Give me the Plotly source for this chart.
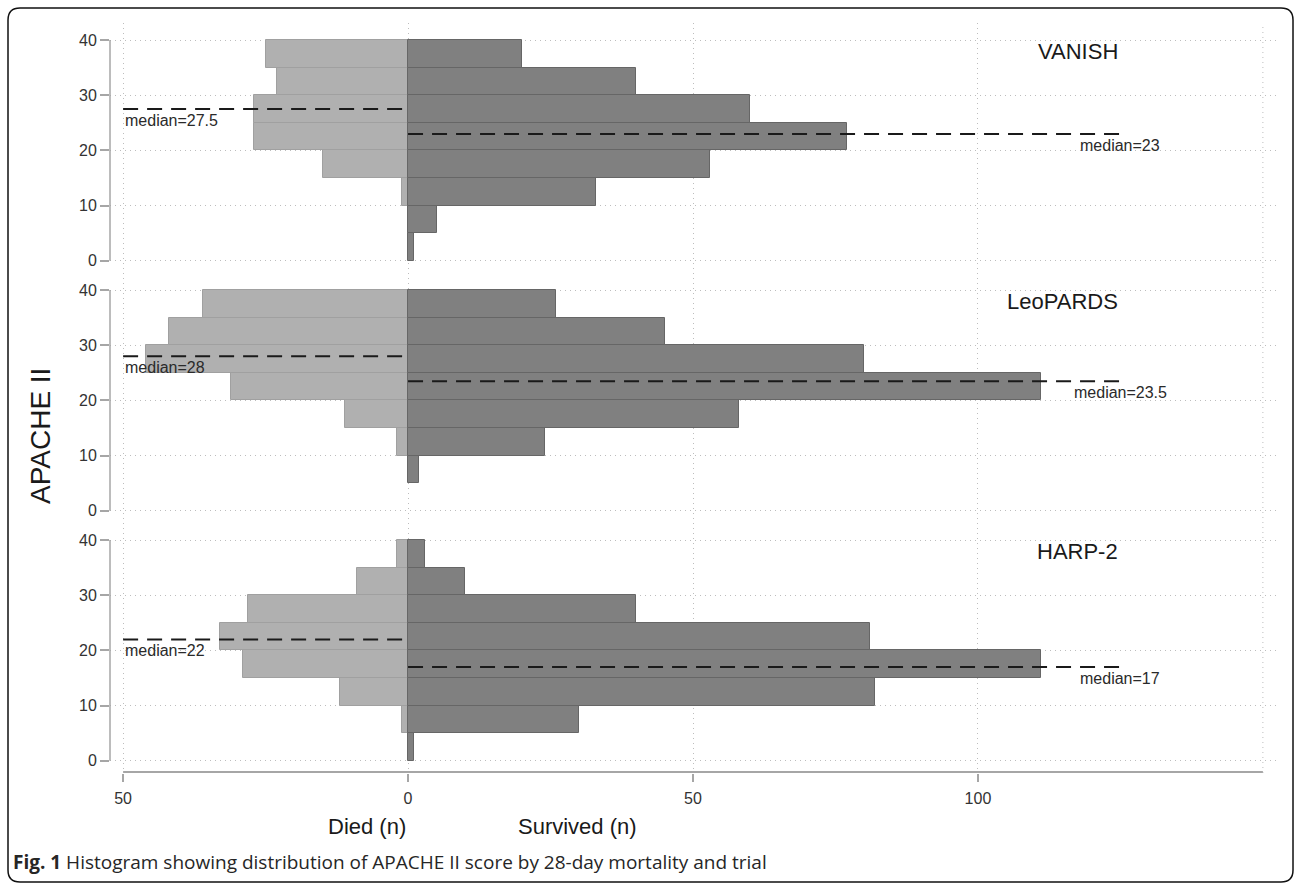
import plotly.graph_objects as go

W, H = 1295, 883

# ---------------- data ----------------
trials = ["VANISH", "LeoPARDS", "HARP-2"]
bin_mid = [2.5, 7.5, 12.5, 17.5, 22.5, 27.5, 32.5, 37.5]   # APACHE II bins of width 5
died_vanish = [0, 0, 1, 15, 27, 27, 23, 25]
surv_vanish = [1, 5, 33, 53, 77, 60, 40, 20]
died_leopards = [0, 0, 2, 11, 31, 46, 42, 36]
surv_leopards = [0, 2, 24, 58, 111, 80, 45, 26]
died_harp2 = [0, 1, 12, 29, 33, 28, 9, 2]
surv_harp2 = [1, 30, 82, 111, 81, 40, 10, 3]
median_died = [27.5, 28, 22]
median_surv = [23, 23.5, 17]
x_tick_vals = [-50, 0, 50, 100]
x_tick_text = ["50", "0", "50", "100"]
y_tick_vals = [0, 10, 20, 30, 40]

died_all = [died_vanish, died_leopards, died_harp2]
surv_all = [surv_vanish, surv_leopards, surv_harp2]

# ---------------- styling ----------------
FONT = "Liberation Sans, Arial, sans-serif"
LIGHT = "#b0b0b0"
LIGHT_EDGE = "#a0a0a0"
DARK = "#808080"
DARK_EDGE = "#666666"
AXIS_GRAY = "#a6a6a6"
GRID = "#bdbdbd"
GRID_DASH = "1px,4px"
TEXT = "#2a2a2a"

def px_x(p):
    return p / W

def px_y(p):
    return 1 - p / H

# panel pixel extents (top, bottom)
panels_px = [(23, 273), (273, 523), (523, 773)]
yaxes = ["y", "y2", "y3"]
x_dom = [px_x(110), px_x(1276)]
y_range = [-2.2, 43.1]
x_range = [-52.3, 152.3]

fig = go.Figure()

for i, trial in enumerate(trials):
    ya = yaxes[i]
    died_x = [(-d if d != 0 else None) for d in died_all[i]]
    surv_x = [(s if s != 0 else None) for s in surv_all[i]]
    fig.add_trace(go.Bar(
        y=bin_mid, x=died_x, orientation="h", width=5,
        marker=dict(color=LIGHT, line=dict(color=LIGHT_EDGE, width=1)),
        xaxis="x", yaxis=ya, name="Died", showlegend=False))
    fig.add_trace(go.Bar(
        y=bin_mid, x=surv_x, orientation="h", width=5,
        marker=dict(color=DARK, line=dict(color=DARK_EDGE, width=1)),
        xaxis="x", yaxis=ya, name="Survived", showlegend=False))
    # median lines
    fig.add_trace(go.Scatter(
        x=[-50, 0], y=[median_died[i]] * 2, mode="lines",
        line=dict(color="#1a1a1a", width=2, dash="15px,9px"),
        xaxis="x", yaxis=ya, showlegend=False, hoverinfo="skip"))
    fig.add_trace(go.Scatter(
        x=[0, 125], y=[median_surv[i]] * 2, mode="lines",
        line=dict(color="#1a1a1a", width=2, dash="15px,9px"),
        xaxis="x", yaxis=ya, showlegend=False, hoverinfo="skip"))

annotations = []
shapes = []
for i, trial in enumerate(trials):
    ya = yaxes[i]
    annotations.append(dict(
        x=-50, y=median_died[i], xref="x", yref=ya, text=f"median={median_died[i]:g}",
        showarrow=False, xanchor="left", yanchor="top", yshift=-1,
        font=dict(family=FONT, size=16, color=TEXT)))
    annotations.append(dict(
        x=125, y=median_surv[i], xref="x", yref=ya, text=f"median={median_surv[i]:g}",
        showarrow=False, xanchor="center", yanchor="top", yshift=-1,
        font=dict(family=FONT, size=16, color=TEXT)))
    annotations.append(dict(
        x=125, y=38, xref="x", yref=ya, text=trial,
        showarrow=False, xanchor="right", yanchor="middle",
        font=dict(family=FONT, size=22, color="#1a1a1a")))
    # y axis line from 0 to 40
    shapes.append(dict(type="line", xref="paper", yref=ya,
                       x0=x_dom[0], x1=x_dom[0], y0=y_tick_vals[0], y1=y_tick_vals[-1],
                       line=dict(color=AXIS_GRAY, width=1.5)))

# gridline at right edge (x=150)
shapes.append(dict(type="line", xref="x", yref="paper", x0=150, x1=150,
                   y0=px_y(773), y1=px_y(23),
                   line=dict(color=GRID, width=1, dash=GRID_DASH)))
# x axis line
shapes.append(dict(type="line", xref="x", yref="paper", x0=-50, x1=150,
                   y0=px_y(772), y1=px_y(772),
                   line=dict(color=AXIS_GRAY, width=2)))

# rounded outer frame
L, T, R, B, r = 8, 8, 1293, 882, 12
pts = lambda a, b: f"{px_x(a):.5f},{px_y(b):.5f}"
path = (f"M {pts(L + r, T)} L {pts(R - r, T)} Q {pts(R, T)} {pts(R, T + r)} "
        f"L {pts(R, B - r)} Q {pts(R, B)} {pts(R - r, B)} "
        f"L {pts(L + r, B)} Q {pts(L, B)} {pts(L, B - r)} "
        f"L {pts(L, T + r)} Q {pts(L, T)} {pts(L + r, T)} Z")
shapes.append(dict(type="path", xref="paper", yref="paper", path=path,
                   line=dict(color="#111111", width=1.5)))

# axis titles and caption
annotations.append(dict(
    x=px_x(41), y=px_y(436), xref="paper", yref="paper", text="APACHE II",
    textangle=-90, showarrow=False, xanchor="center", yanchor="middle",
    font=dict(family=FONT, size=28, color="#1a1a1a")))
annotations.append(dict(
    x=0, y=px_y(826), xref="x", yref="paper", text="Died (n)",
    showarrow=False, xanchor="right", yanchor="middle",
    font=dict(family=FONT, size=22, color="#1a1a1a")))
annotations.append(dict(
    x=px_x(516), y=px_y(826), xref="paper", yref="paper", text="Survived (n)",
    showarrow=False, xanchor="left", yanchor="middle",
    font=dict(family=FONT, size=22, color="#1a1a1a")))
annotations.append(dict(
    x=px_x(11), y=px_y(862), xref="paper", yref="paper",
    text="<b>Fig. 1</b> Histogram showing distribution of APACHE II score by 28-day mortality and trial",
    showarrow=False, xanchor="left", yanchor="middle",
    font=dict(family="Open Sans, Noto Sans, sans-serif", size=19, color="#262626")))

layout = dict(
    width=W, height=H,
    margin=dict(l=0, r=0, t=0, b=0, autoexpand=False),
    paper_bgcolor="white", plot_bgcolor="white",
    barmode="overlay", bargap=0,
    showlegend=False,
    font=dict(family=FONT, size=16, color="#333333"),
    xaxis=dict(domain=x_dom, range=x_range, anchor="y3",
               tickvals=x_tick_vals, ticktext=x_tick_text,
               ticks="outside", ticklen=8, tickwidth=1.5, tickcolor=AXIS_GRAY,
               ticklabelstandoff=3,
               showline=False, zeroline=False,
               showgrid=True, gridcolor=GRID, griddash=GRID_DASH, gridwidth=1,
               tickfont=dict(family=FONT, size=16, color="#333333")),
    shapes=shapes, annotations=annotations,
)
for i, ya in enumerate(yaxes):
    key = "yaxis" if ya == "y" else "yaxis" + ya[1:]
    top, bot = panels_px[i]
    layout[key] = dict(domain=[px_y(bot), px_y(top)], range=y_range, anchor="x",
                       tickvals=y_tick_vals, ticks="outside", ticklen=9, tickwidth=1.5,
                       tickcolor=AXIS_GRAY, showline=False, zeroline=False,
                       showgrid=True, gridcolor=GRID, griddash=GRID_DASH, gridwidth=1,
                       tickfont=dict(family=FONT, size=16, color="#333333"))

fig.update_layout(**layout)
fig.write_html("out.html")
